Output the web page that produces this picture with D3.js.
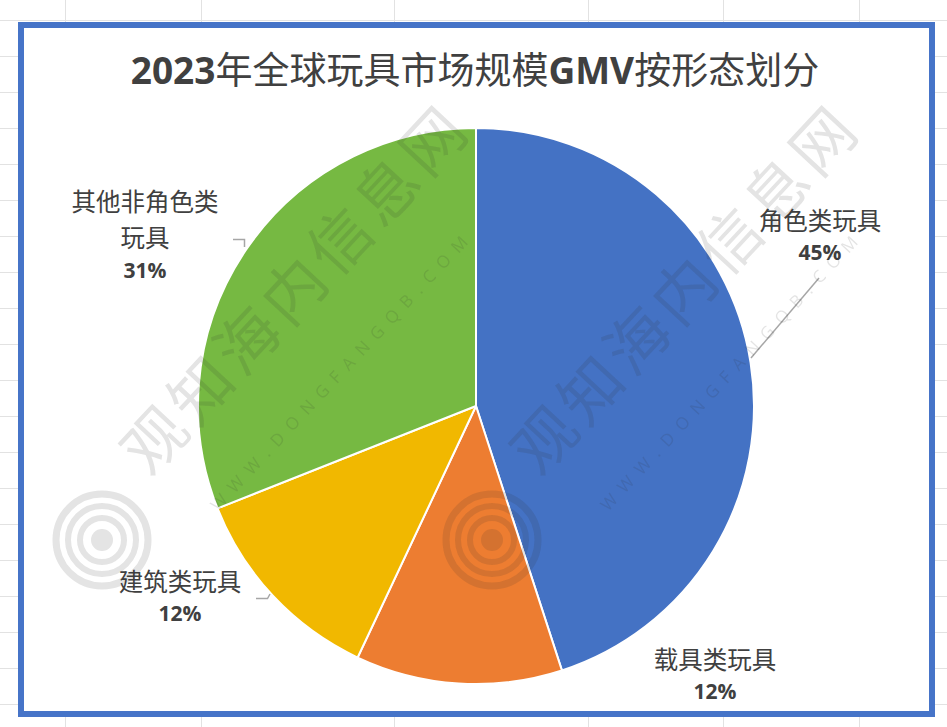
<!DOCTYPE html>
<html><head><meta charset="utf-8">
<script src="https://cdn.jsdelivr.net/npm/d3@7"></script>
<style>html,body{margin:0;padding:0;background:#fff;}svg{display:block;}</style>
</head><body>
<svg id="c" width="947" height="727"></svg>
<script>
const titleText = "2023年全球玩具市场规模GMV按形态划分";
const categories = ["角色类玩具", "载具类玩具", "建筑类玩具", "其他非角色类玩具"];
const labelLines = [["角色类玩具"], ["载具类玩具"], ["建筑类玩具"], ["其他非角色类", "玩具"]];
const values = [45, 12, 12, 31];
const colors = ["#4472C4", "#ED7D31", "#F1B800", "#76B942"];

const W = 947, H = 727;
const svg = d3.select("#c");

// spreadsheet grid background
const gridX = [65, 201, 394, 588, 723, 859];
const gridY = d3.range(20, 727, 36);
const g0 = svg.append("g");
g0.selectAll("line.v").data(gridX).join("line")
  .attr("x1", d => d + 0.5).attr("x2", d => d + 0.5).attr("y1", 0).attr("y2", H)
  .attr("stroke", "#e2e2e2").attr("stroke-width", 1);
g0.selectAll("line.h").data(gridY).join("line")
  .attr("y1", d => d + 0.5).attr("y2", d => d + 0.5).attr("x1", 0).attr("x2", W)
  .attr("stroke", "#e2e2e2").attr("stroke-width", 1);

// chart area
svg.append("rect").attr("x", 21).attr("y", 25).attr("width", 911).attr("height", 689)
  .attr("fill", "#fff").attr("stroke", "#4674C8").attr("stroke-width", 6);

// title
const t = svg.append("text").attr("x", 475).attr("y", 84).attr("text-anchor", "middle")
  .attr("fill", "#404040").attr("font-size", 37)
  .attr("font-family", "'Noto Sans CJK SC', sans-serif");
const parts = titleText.match(/[0-9A-Za-z]+|[^0-9A-Za-z]+/g);
parts.forEach(p => {
  const latin = /[0-9A-Za-z]/.test(p);
  t.append("tspan").text(p)
    .attr("font-weight", latin ? "bold" : "normal")
    .attr("font-family", latin ? "'Open Sans', 'Noto Sans', sans-serif" : "'Noto Sans CJK SC', sans-serif");
});

// pie
const cx = 476, cy = 406, r = 278;
const pie = d3.pie().sort(null).value(d => d)(values);
const arc = d3.arc().innerRadius(0).outerRadius(r);
const gp = svg.append("g").attr("transform", `translate(${cx},${cy})`);
gp.selectAll("path").data(pie).join("path")
  .attr("d", arc).attr("fill", (d, i) => colors[i])
  .attr("stroke", "#fff").attr("stroke-width", 2).attr("stroke-linejoin", "round");

// labels (one text element per label, lines as tspans)
const labelPos = [[820, 230], [715, 669], [180, 591], [145, 211]];
const font = "'Noto Sans CJK SC', sans-serif";
const cjkSize = 24.5, lineH = 35.5;
pie.forEach((d, i) => {
  const [lx, ly] = labelPos[i];
  const lines = labelLines[i];
  const txt = svg.append("text").attr("x", lx).attr("y", ly).attr("text-anchor", "middle")
    .attr("fill", "#404040").attr("font-family", font);
  lines.forEach((ln, k) => {
    txt.append("tspan").attr("x", lx).attr("y", ly + k * lineH)
      .attr("font-size", cjkSize).text(ln);
  });
  const pctY = lines.length > 1 ? ly + (lines.length - 1) * lineH + 31.5 : ly + 30;
  txt.append("tspan").attr("x", lx).attr("y", pctY)
    .attr("font-size", 21).attr("font-weight", "bold")
    .attr("font-family", "'Open Sans', 'Noto Sans', sans-serif")
    .text(d3.format(".0%")(d.value / 100));
});

// leader lines
const leader = d3.line();
const leaders = [
  [[819, 278], [751, 358]],
  [[233, 239.5], [244.5, 239.5], [244.5, 247]],
  [[256, 598.5], [267.5, 598.5], [270, 594]]
];
svg.selectAll("path.ld").data(leaders).join("path")
  .attr("d", leader).attr("fill", "none").attr("stroke", "#a6a6a6").attr("stroke-width", 1.5);

// watermarks
const wm = svg.append("g").attr("opacity", 0.13).attr("fill", "#303030").attr("pointer-events", "none");
[0, 390].forEach(dx => {
  wm.append("text").attr("transform", `translate(${150 + dx},${478}) rotate(-47)`)
    .attr("font-size", 62).attr("font-family", font).attr("letter-spacing", 6).text("观知海内信息网");
  wm.append("text").attr("transform", `translate(${218 + dx},${512}) rotate(-47)`)
    .attr("font-size", 17).attr("font-family", "'Open Sans', sans-serif").attr("letter-spacing", 9)
    .text("WWW.DONGFANGQB.COM");
  const lc = wm.append("g").attr("transform", `translate(${102 + dx},${540})`);
  [46, 34, 22].forEach((rr, k) => {
    lc.append("circle").attr("r", rr).attr("fill", "none").attr("stroke", "#303030").attr("stroke-width", k === 0 ? 7 : 6);
  });
  lc.append("circle").attr("r", 11).attr("fill", "#303030");
});
</script>
</body></html>
